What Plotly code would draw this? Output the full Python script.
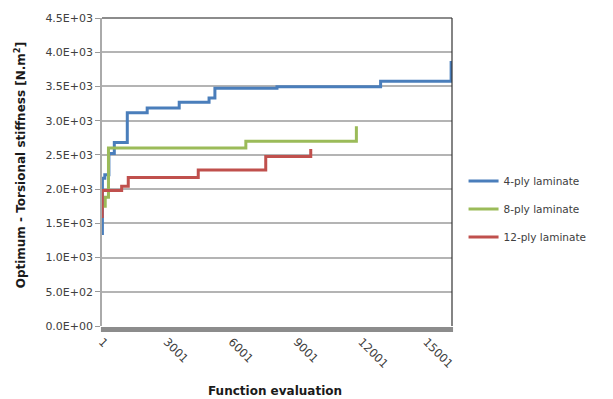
import plotly.graph_objects as go

# ---- data ----
x_4ply = [1, 20, 130, 320, 570, 1170, 2090, 3570, 4950, 5220, 8090, 12880, 16140]
y_4ply = [1350, 2160, 2210, 2520, 2680, 3115, 3185, 3270, 3330, 3475, 3495, 3575, 3870]

x_8ply = [1, 150, 300, 6650, 11760]
y_8ply = [1750, 1880, 2600, 2700, 2920]

x_12ply = [1, 12, 910, 1215, 4450, 7570, 9650]
y_12ply = [1600, 1980, 2040, 2170, 2280, 2475, 2585]

series_names = ["4-ply laminate", "8-ply laminate", "12-ply laminate"]
series_colors = ["#4A7EBB", "#9BBB59", "#C0504D"]

y_tickvals = [0, 500, 1000, 1500, 2000, 2500, 3000, 3500, 4000, 4500]
y_ticktext = ["0.0E+00", "5.0E+02", "1.0E+03", "1.5E+03", "2.0E+03",
              "2.5E+03", "3.0E+03", "3.5E+03", "4.0E+03", "4.5E+03"]
x_tickvals = [1, 3001, 6001, 9001, 12001, 15001]
x_ticktext = ["1", "3001", "6001", "9001", "12001", "15001"]

FONT = "DejaVu Sans"
TXT = "#404040"

fig = go.Figure()
for i, (xs, ys) in enumerate([(x_4ply, y_4ply), (x_8ply, y_8ply), (x_12ply, y_12ply)]):
    fig.add_trace(go.Scatter(
        x=xs, y=ys, mode="lines", name=series_names[i],
        line=dict(color=series_colors[i], width=3, shape="hv"),
        legendgroup=f"g{i}",
    ))

fig.update_layout(
    width=613, height=399,
    margin=dict(l=102, r=161, t=15, b=73),
    paper_bgcolor="white", plot_bgcolor="white",
    font=dict(family=FONT, size=11, color=TXT),
    showlegend=True,
    legend=dict(
        x=1.033, xanchor="left", y=0.518, yanchor="top",
        font=dict(family=FONT, size=10.5, color=TXT),
        tracegroupgap=9, itemwidth=30,
        bgcolor="rgba(0,0,0,0)",
    ),
    xaxis=dict(
        range=[1, 16180], tickmode="array", tickvals=x_tickvals, ticktext=x_ticktext,
        tickangle=45, showgrid=False, zeroline=False, showline=False,
        ticks="", ticklabelstandoff=6,
        tickfont=dict(family=FONT, size=11.5, color=TXT),
    ),
    yaxis=dict(
        range=[0, 4500], tickmode="array", tickvals=y_tickvals, ticktext=y_ticktext,
        showgrid=True, gridcolor="#B4B4B4", gridwidth=1.5, zeroline=False,
        showline=True, linecolor="#AAAAAA", linewidth=1.5,
        ticks="outside", ticklen=5, tickcolor="#999999", tickwidth=1,
        tickfont=dict(family=FONT, size=11, color=TXT),
    ),
    annotations=[
        dict(text="<b>Optimum - Torsional stiffness [N.m<sup>2</sup>]</b>",
             xref="paper", yref="paper", x=-0.234, y=0.522, textangle=-90,
             xanchor="center", yanchor="middle", showarrow=False,
             font=dict(family=FONT, size=12, color="#1a1a1a")),
        dict(text="<b>Function evaluation</b>",
             xref="paper", yref="paper", x=0.494, y=-0.212,
             xanchor="center", yanchor="middle", showarrow=False,
             font=dict(family=FONT, size=12, color="#1a1a1a")),
    ],
    shapes=[
        dict(type="line", xref="paper", yref="paper", x0=0, x1=1, y0=1, y1=1,
             line=dict(color="#666666", width=1.5)),
        dict(type="line", xref="paper", yref="paper", x0=1, x1=1, y0=0, y1=1,
             line=dict(color="#333333", width=1.2)),
        dict(type="rect", xref="paper", yref="paper", x0=-0.003, x1=1.003,
             y0=-6 / 311, y1=-1 / 311, fillcolor="#8C8C8C", line=dict(width=0)),
    ],
)

fig.write_html("out.html", config={"displayModeBar": False},
               post_script="document.body.style.margin='0';")
